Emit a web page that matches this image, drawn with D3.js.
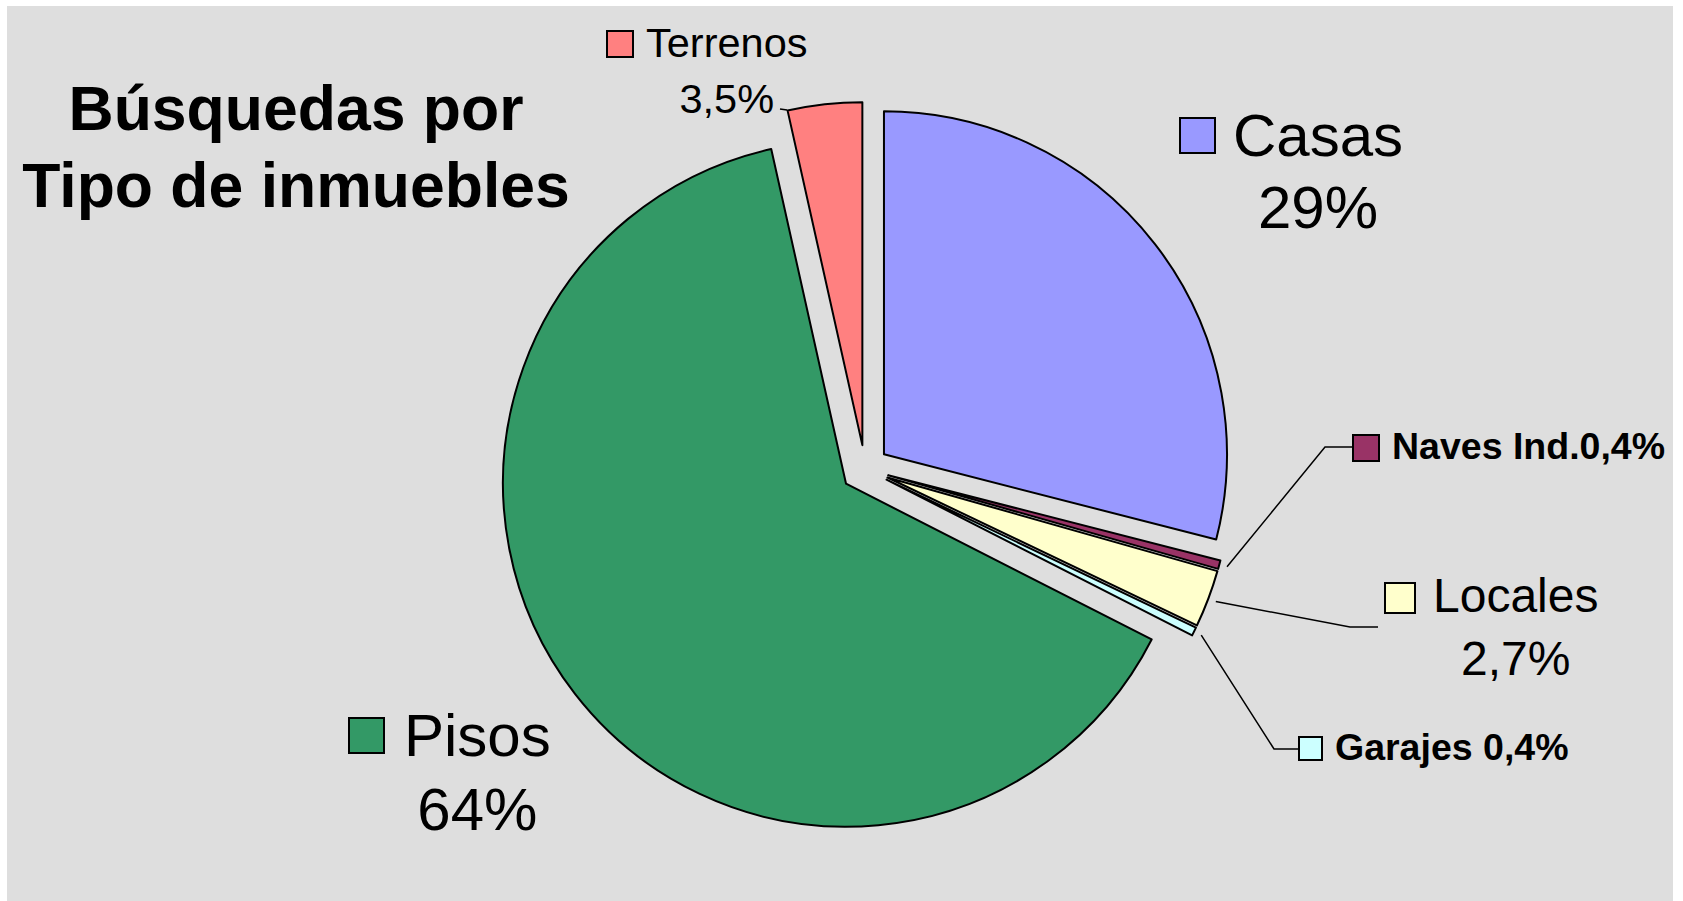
<!DOCTYPE html>
<html>
<head>
<meta charset="utf-8">
<script src="https://cdn.jsdelivr.net/npm/d3@7/dist/d3.min.js"></script>
<style>
  html, body { margin: 0; padding: 0; background: #ffffff; }
  svg { display: block; }
  text { font-family: "Liberation Sans", Arial, sans-serif; fill: #000; }
</style>
</head>
<body>
<svg id="chart" width="1683" height="901"></svg>
<script>
// ---- data ----
const categories = ["Casas", "Naves Ind.", "Locales", "Garajes", "Pisos", "Terrenos"];
const values = [29, 0.4, 2.7, 0.4, 64, 3.5];
const valueLabels = ["29%", "0,4%", "2,7%", "0,4%", "64%", "3,5%"];
const colors = ["#9999ff", "#993366", "#ffffcc", "#ccffff", "#339966", "#ff8080"];
const titleLines = ["Búsquedas por", "Tipo de inmuebles"];

// ---- layout ----
const cx = 865, cy = 469, R = 343, explode = 24;

const svg = d3.select("#chart");
svg.append("rect").attr("x", 7).attr("y", 6).attr("width", 1666).attr("height", 895).attr("fill", "#dedede");

const data = categories.map((c, i) => ({ name: c, value: values[i], label: valueLabels[i], color: colors[i] }));
const pie = d3.pie().value(d => d.value).sort(null).startAngle(0).endAngle(2 * Math.PI);
const arcs = pie(data);
const arc = d3.arc().innerRadius(0).outerRadius(R);

const g = svg.append("g").attr("transform", `translate(${cx},${cy})`);
g.selectAll("path.slice")
  .data(arcs)
  .join("path")
  .attr("class", "slice")
  .attr("d", arc)
  .attr("fill", d => d.data.color)
  .attr("stroke", "#000")
  .attr("stroke-width", 2)
  .attr("stroke-linejoin", "round")
  .attr("transform", d => {
    const a = (d.startAngle + d.endAngle) / 2;
    return `translate(${explode * Math.sin(a)},${-explode * Math.cos(a)})`;
  });

// ---- labels (layout config, separate from data) ----
const labelLayout = {
  "Casas":      { type: "big", sq: [1180, 118, 35], size: 60, tx: 1233, ty: 156, py: 228 },
  "Pisos":      { type: "big", sq: [349, 718, 35], size: 60, tx: 404, ty: 756, py: 830 },
  "Locales":    { type: "big", sq: [1385, 583, 30], size: 48, tx: 1433, ty: 612, py: 675,
                  leader: [[1350, 627], [1378, 627]] },
  "Terrenos":   { type: "big", sq: [607, 31, 26], size: 41.5, tx: 646, ty: 57, py: 113,
                  leader: [[787, 110]], leaderStart: [780, 109] },
  "Naves Ind.": { type: "small", sq: [1353, 435, 26], size: 37.5, tx: 1392, ty: 459, sep: "",
                  leader: [[1325, 447], [1353, 447]] },
  "Garajes":    { type: "small", sq: [1299, 737, 23], size: 37.5, tx: 1335, ty: 760, sep: " ",
                  leader: [[1274, 749], [1299, 749]] }
};

const labels = svg.append("g");
arcs.forEach(d => {
  const L = labelLayout[d.data.name];
  if (!L) return;
  const a = (d.startAngle + d.endAngle) / 2;
  if (L.leader) {
    const r0 = R + explode + 8;
    const start = L.leaderStart || [cx + r0 * Math.sin(a), cy - r0 * Math.cos(a)];
    labels.append("path")
      .attr("d", d3.line()([start, ...L.leader]))
      .attr("fill", "none").attr("stroke", "#000").attr("stroke-width", 1.5);
  }
  labels.append("rect")
    .attr("x", L.sq[0]).attr("y", L.sq[1]).attr("width", L.sq[2]).attr("height", L.sq[2])
    .attr("fill", d.data.color).attr("stroke", "#000").attr("stroke-width", 2);
  if (L.type === "big") {
    const t = labels.append("text")
      .attr("x", L.tx).attr("y", L.ty)
      .attr("font-size", L.size)
      .text(d.data.name);
    const w = t.node().getComputedTextLength();
    labels.append("text")
      .attr("x", L.tx + w / 2).attr("y", L.py)
      .attr("text-anchor", "middle")
      .attr("font-size", L.size)
      .text(d.data.label);
  } else {
    labels.append("text")
      .attr("x", L.tx).attr("y", L.ty)
      .attr("font-size", L.size)
      .attr("font-weight", "bold")
      .text(d.data.name + L.sep + d.data.label);
  }
});

// ---- title ----
const title = svg.append("text")
  .attr("font-size", 62.5)
  .attr("font-weight", "bold")
  .attr("text-anchor", "middle");
title.selectAll("tspan")
  .data(titleLines)
  .join("tspan")
  .attr("x", 296)
  .attr("y", (d, i) => i === 0 ? 130 : 207)
  .text(d => d);
</script>
</body>
</html>
